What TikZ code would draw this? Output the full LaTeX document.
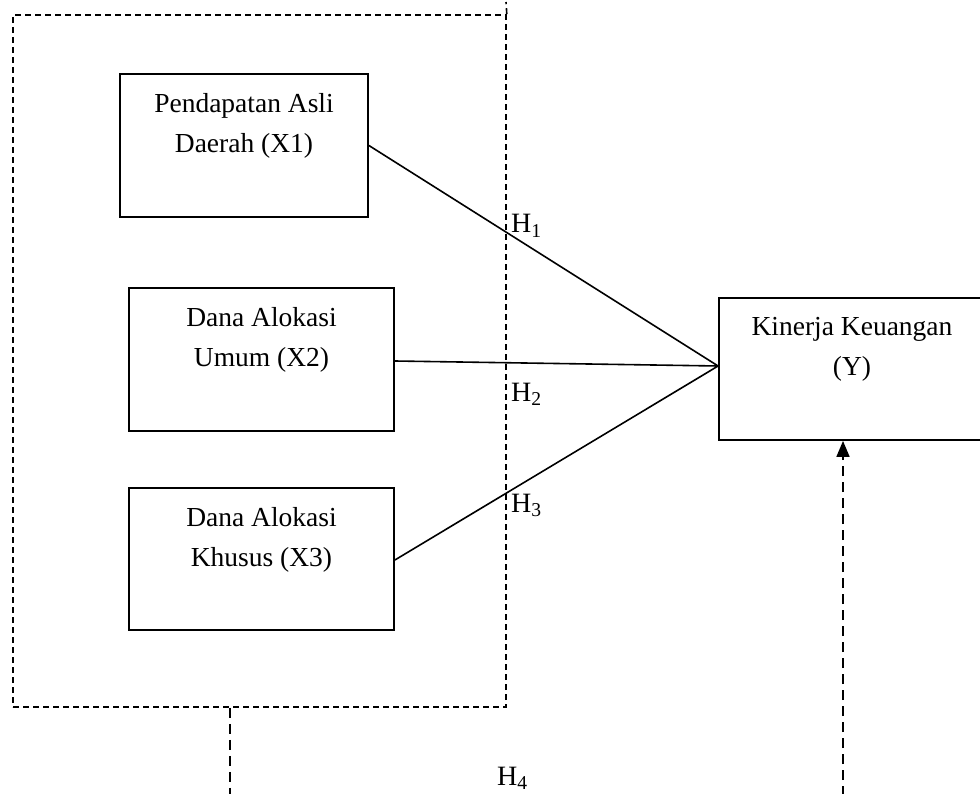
\documentclass[tikz,border=0pt]{standalone}
\usepackage{fontspec}
\setmainfont{Liberation Serif}
\usetikzlibrary{arrows.meta}
\begin{document}
\begin{tikzpicture}[x=1pt,y=-1pt,
  varbox/.style={draw, line width=1.8pt, inner sep=0pt},
  boxtext/.style={anchor=north, align=center, inner sep=0pt, font=\fontsize{27.5}{40}\selectfont},
  hlabel/.style={anchor=base west, inner sep=0pt, font=\fontsize{28}{32}\selectfont},
  grpline/.style={line width=1.6pt, dash pattern=on 6pt off 4pt},
  longdash/.style={line width=1.7pt, dash pattern=on 10pt off 6pt},
  path/.style={line width=1.6pt}
]
\useasboundingbox (0,0) rectangle (980,794);
% group box
\node[draw, grpline, minimum width=493pt, minimum height=692pt, inner sep=0pt] (grp) at (259.5,361) {};
\coordinate (gtop) at (506,2);
\draw[grpline] (grp.north east) -- (gtop);
% variable boxes
\node[varbox, minimum width=248pt, minimum height=143pt] (x1) at (244,145.5) {};
\node[boxtext] (t1) at ([yshift=-20pt]x1.north) {Pendapatan Asli\\Daerah (X1)};
\node[varbox, minimum width=265pt, minimum height=143pt] (x2) at (261.5,359.5) {};
\node[boxtext] (t2) at ([yshift=-20pt]x2.north) {Dana Alokasi\\Umum (X2)};
\node[varbox, minimum width=265pt, minimum height=142pt] (x3) at (261.5,559) {};
\node[boxtext] (t3) at ([yshift=-20pt]x3.north) {Dana Alokasi\\Khusus (X3)};
\node[varbox, minimum width=264pt, minimum height=142pt] (y) at (851,369) {};
\node[boxtext] (ty) at ([yshift=-20pt,xshift=1pt]y.north) {Kinerja Keuangan\\(Y)};
% paths
\coordinate (yin) at ([yshift=3pt]y.west);
\draw[path] (x1.east) -- (yin);
\draw[path] ([yshift=-1.5pt]x2.east) -- (yin);
\draw[path] ([yshift=-1pt]x3.east) -- (yin);
% labels
\node[hlabel] (h1) at (511,233) {H\textsubscript{1}};
\node[hlabel] (h2) at (511,401) {H\textsubscript{2}};
\node[hlabel] (h3) at (511,512) {H\textsubscript{3}};
\node[hlabel] (h4) at (497,785) {H\textsubscript{4}};
% H4 connector
\coordinate (b4) at (230,796);
\draw[longdash] (grp.south west -| b4) -- (b4);
\coordinate (b5) at (843,796);
\draw[longdash, -{Triangle[width=13pt,length=16pt]}] (b5) -- (y.south -| b5);
\end{tikzpicture}
\end{document}
